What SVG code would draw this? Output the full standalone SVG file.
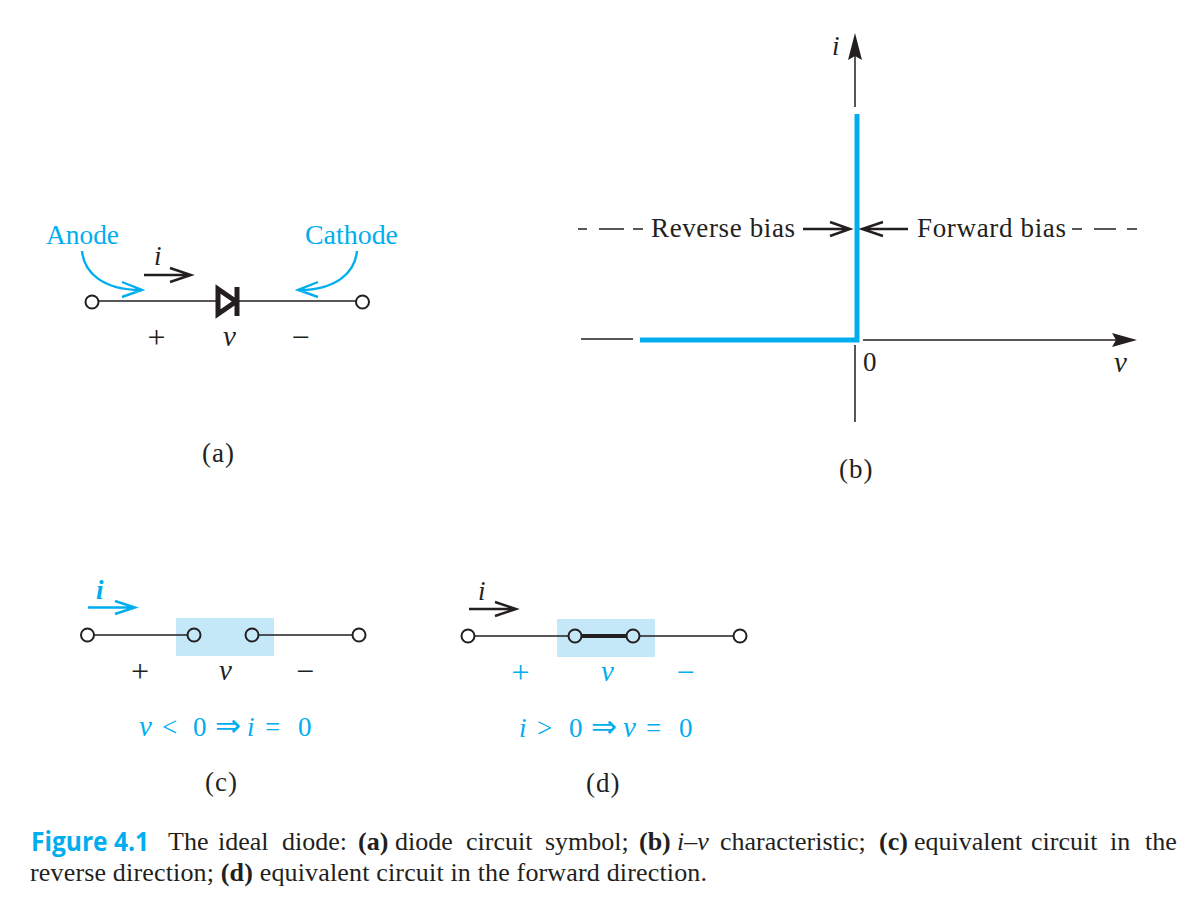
<svg xmlns="http://www.w3.org/2000/svg" width="1204" height="899" viewBox="0 0 1204 899">
<style>
text{font-family:"Liberation Serif","Times New Roman",serif;fill:#231f20}
.s{font-size:27px}
.p{font-size:32px}
.v{font-size:29px}
.l{font-size:27px;letter-spacing:1px}
.b{fill:#00aeef}
.it{font-style:italic}
.w{fill:none;stroke:#231f20;stroke-width:1.5}
.k{fill:none;stroke:#231f20;stroke-width:2.4}
.c{fill:none;stroke:#00aeef;stroke-width:2.4}
.n{fill:#fff;stroke:#231f20;stroke-width:2}
.nb{fill:#c5e8f9;stroke:#231f20;stroke-width:2}
.cap{font-size:26px}
.sh{fill:#c5e8f9}
.ar{font-size:31px}
</style>
<rect width="1204" height="899" fill="#fff"/>

<g id="connectors">
<!-- a -->
<path class="w" d="M98 301H216M237 301H356"/>
<path class="k" d="M144 275H190M170 268L191 275L170 282"/>
<path class="c" d="M82 251C84 272 102 290 141 290M122 282L142 290L122 297"/>
<path class="c" d="M357 251C355 272 337 290 299 290M318 282L298 290L318 297"/>
<!-- b -->
<path class="w" d="M855 52V107M855 345V422M863 340H1122M581 339H633"/>
<path fill="#231f20" d="M855 33L862 60L855 56L848 60ZM1137 340L1112 333L1116 340L1112 347Z"/>
<path class="w" d="M578 229H587M599 229H624M633 229H643M1072 229H1082M1094 229H1116M1127 229H1137"/>
<path class="k" d="M803 229H849M830 222L850 229L830 236M908 229H863M883 222L862 229L883 236"/>
<path fill="none" stroke="#00aeef" stroke-width="5" d="M857 114V340H640"/>
<!-- c -->
<rect class="sh" x="176" y="618" width="98" height="38"/>
<path class="w" d="M94 635H188M258 635H353"/>
<path class="c" d="M88 607.5H133M115 601L135 607.500L115 614"/>
<!-- d -->
<rect class="sh" x="557" y="619" width="98" height="38"/>
<path class="w" d="M474 636H569M639 636H734"/>
<path fill="none" stroke="#231f20" stroke-width="4" d="M581 636H627"/>
<path class="k" d="M469 609H515M495 602L516 609L495 616"/>
</g>

<g id="node-a-left"><circle class="n" cx="92" cy="302" r="6.500"/></g>
<g id="node-a-right"><circle class="n" cx="362.500" cy="302" r="6.500"/></g>
<g id="diode"><path fill="none" stroke="#231f20" stroke-width="5" stroke-linejoin="miter" d="M218 289V314L236 301.500ZM237 287V316"/></g>
<g id="node-c1"><circle class="n" cx="87.500" cy="635" r="6.500"/></g>
<g id="node-c2"><circle class="nb" cx="194" cy="635" r="6.500"/></g>
<g id="node-c3"><circle class="nb" cx="252" cy="635" r="6.500"/></g>
<g id="node-c4"><circle class="n" cx="359" cy="635" r="6.500"/></g>
<g id="node-d1"><circle class="n" cx="468" cy="636" r="6.500"/></g>
<g id="node-d2"><circle class="nb" cx="575" cy="636" r="6.500"/></g>
<g id="node-d3"><circle class="nb" cx="633" cy="636" r="6.500"/></g>
<g id="node-d4"><circle class="n" cx="740" cy="636" r="6.500"/></g>

<g id="labels-a">
<text class="s b" x="46" y="244" textLength="73" lengthAdjust="spacingAndGlyphs">Anode</text>
<text class="s b" x="305" y="244" textLength="93" lengthAdjust="spacingAndGlyphs">Cathode</text>
<text class="s it" x="154" y="265">i</text>
<text class="p" x="147.500" y="348">+</text>
<text class="v it" x="223" y="346">v</text>
<text class="p" x="291.500" y="348">−</text>
<text class="l" x="202" y="462">(a)</text>
</g>
<g id="labels-b">
<text class="s it" x="832" y="55">i</text>
<text class="s" x="651" y="237" textLength="144">Reverse bias</text>
<text class="s" x="917" y="237" textLength="149">Forward bias</text>
<text class="s" x="863" y="371">0</text>
<text class="v it" x="1114" y="372">v</text>
<text class="l" x="839" y="478">(b)</text>
</g>
<g id="labels-c">
<text class="s it b" x="96" y="599" font-weight="bold">i</text>
<text class="p" x="131" y="682">+</text>
<text class="v it" x="219" y="680">v</text>
<text class="p" x="296" y="682">−</text>
<text class="s b" x="139" y="736"><tspan class="it v">v</tspan><tspan x="162">&lt;</tspan><tspan x="193">0</tspan><tspan x="215" class="ar">⇒</tspan><tspan x="247" class="it">i</tspan><tspan x="265">=</tspan><tspan x="298">0</tspan></text>
<text class="l" x="205" y="791">(c)</text>
</g>
<g id="labels-d">
<text class="s it" x="478" y="600">i</text>
<text class="p b" x="511.500" y="683">+</text>
<text class="v it b" x="601" y="681">v</text>
<text class="p b" x="676.500" y="683">−</text>
<text class="s b" x="519" y="737"><tspan class="it">i</tspan><tspan x="537">&gt;</tspan><tspan x="569">0</tspan><tspan x="591" class="ar">⇒</tspan><tspan x="623" class="it v">v</tspan><tspan x="646">=</tspan><tspan x="679">0</tspan></text>
<text class="l" x="586" y="792">(d)</text>
</g>
<g id="caption">
<text class="cap" x="31" y="851" style="font-family:'Open Sans','Noto Sans',sans-serif;fill:#00aeef;font-weight:700" textLength="118" lengthAdjust="spacingAndGlyphs">Figure 4.1</text>
<text class="cap" y="850"><tspan x="168">The</tspan><tspan x="218">ideal</tspan><tspan x="282">diode:</tspan><tspan x="358" font-weight="bold">(a)</tspan><tspan x="395">diode</tspan><tspan x="466">circuit</tspan><tspan x="545">symbol;</tspan><tspan x="639" font-weight="bold">(b)</tspan><tspan x="677" class="it">i–v</tspan><tspan x="720">characteristic;</tspan><tspan x="879" font-weight="bold">(c)</tspan><tspan x="914">equivalent</tspan><tspan x="1031">circuit</tspan><tspan x="1110">in</tspan><tspan x="1145">the</tspan></text>
<text class="cap" x="30" y="881" textLength="677" lengthAdjust="spacing">reverse direction; <tspan font-weight="bold">(d)</tspan> equivalent circuit in the forward direction.</text>
</g>
</svg>
